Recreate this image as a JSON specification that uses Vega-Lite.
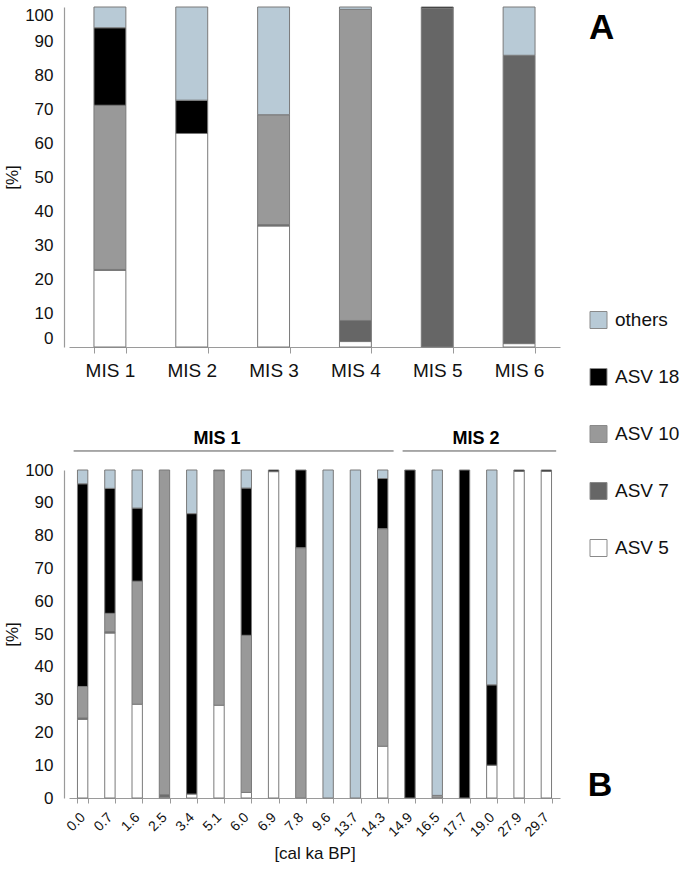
{
  "$schema": "https://vega.github.io/schema/vega-lite/v6.json",
  "padding": {"left": 3, "top": 6, "right": 0, "bottom": 0},
  "autosize": {"type": "pad"},
  "bounds": "flush",
  "spacing": 123,
  "config": {
    "font": "Liberation Sans",
    "view": {"stroke": null},
    "axis": {"domainColor": "#9a9a9a", "tickColor": "#9a9a9a", "labelColor": "#111111", "titleColor": "#111111", "grid": false, "titleFontWeight": "normal", "domainWidth": 1.2},
    "axisY": {"values": [0, 10, 20, 30, 40, 50, 60, 70, 80, 90, 100], "titleFontSize": 17, "titlePadding": 3, "labelFontSize": 17, "labelPadding": 11, "ticks": false, "tickSize": 0, "offset": 5},
    "bar": {"stroke": "#7a7a7a", "strokeWidth": 1}
  },
  "datasets": {
    "top": [
      {"g": "MIS 1", "asv": "ASV 5", "v": 22.5, "k": 1},
      {"g": "MIS 1", "asv": "ASV 7", "v": 0.3, "k": 2},
      {"g": "MIS 1", "asv": "ASV 10", "v": 48.3, "k": 3},
      {"g": "MIS 1", "asv": "ASV 18", "v": 22.8, "k": 4},
      {"g": "MIS 1", "asv": "others", "v": 6.1, "k": 5},
      {"g": "MIS 2", "asv": "ASV 5", "v": 62.8, "k": 1},
      {"g": "MIS 2", "asv": "ASV 18", "v": 9.8, "k": 4},
      {"g": "MIS 2", "asv": "others", "v": 27.4, "k": 5},
      {"g": "MIS 3", "asv": "ASV 5", "v": 35.6, "k": 1},
      {"g": "MIS 3", "asv": "ASV 7", "v": 0.4, "k": 2},
      {"g": "MIS 3", "asv": "ASV 10", "v": 32.3, "k": 3},
      {"g": "MIS 3", "asv": "others", "v": 31.7, "k": 5},
      {"g": "MIS 4", "asv": "ASV 5", "v": 1.6, "k": 1},
      {"g": "MIS 4", "asv": "ASV 7", "v": 6.2, "k": 2},
      {"g": "MIS 4", "asv": "ASV 10", "v": 91.5, "k": 3},
      {"g": "MIS 4", "asv": "others", "v": 0.7, "k": 5},
      {"g": "MIS 5", "asv": "ASV 7", "v": 99.6, "k": 2},
      {"g": "MIS 5", "asv": "ASV 18", "v": 0.4, "k": 4},
      {"g": "MIS 6", "asv": "ASV 5", "v": 1.0, "k": 1},
      {"g": "MIS 6", "asv": "ASV 7", "v": 84.8, "k": 2},
      {"g": "MIS 6", "asv": "others", "v": 14.2, "k": 5}
    ],
    "bottom": [
      {"g": "0.0", "asv": "ASV 5", "v": 24.0, "k": 1},
      {"g": "0.0", "asv": "ASV 7", "v": 0.4, "k": 2},
      {"g": "0.0", "asv": "ASV 10", "v": 9.6, "k": 3},
      {"g": "0.0", "asv": "ASV 18", "v": 61.8, "k": 4},
      {"g": "0.0", "asv": "others", "v": 4.2, "k": 5},
      {"g": "0.7", "asv": "ASV 5", "v": 50.3, "k": 1},
      {"g": "0.7", "asv": "ASV 7", "v": 0.4, "k": 2},
      {"g": "0.7", "asv": "ASV 10", "v": 5.6, "k": 3},
      {"g": "0.7", "asv": "ASV 18", "v": 38.1, "k": 4},
      {"g": "0.7", "asv": "others", "v": 5.6, "k": 5},
      {"g": "1.6", "asv": "ASV 5", "v": 28.6, "k": 1},
      {"g": "1.6", "asv": "ASV 10", "v": 37.5, "k": 3},
      {"g": "1.6", "asv": "ASV 18", "v": 22.3, "k": 4},
      {"g": "1.6", "asv": "others", "v": 11.6, "k": 5},
      {"g": "2.5", "asv": "ASV 5", "v": 0.3, "k": 1},
      {"g": "2.5", "asv": "ASV 7", "v": 0.7, "k": 2},
      {"g": "2.5", "asv": "ASV 10", "v": 99.0, "k": 3},
      {"g": "3.4", "asv": "ASV 5", "v": 1.2, "k": 1},
      {"g": "3.4", "asv": "ASV 18", "v": 85.5, "k": 4},
      {"g": "3.4", "asv": "others", "v": 13.3, "k": 5},
      {"g": "5.1", "asv": "ASV 5", "v": 28.3, "k": 1},
      {"g": "5.1", "asv": "ASV 10", "v": 71.5, "k": 3},
      {"g": "5.1", "asv": "ASV 18", "v": 0.2, "k": 4},
      {"g": "6.0", "asv": "ASV 5", "v": 1.7, "k": 1},
      {"g": "6.0", "asv": "ASV 10", "v": 47.9, "k": 3},
      {"g": "6.0", "asv": "ASV 18", "v": 44.9, "k": 4},
      {"g": "6.0", "asv": "others", "v": 5.5, "k": 5},
      {"g": "6.9", "asv": "ASV 5", "v": 99.5, "k": 1},
      {"g": "6.9", "asv": "ASV 18", "v": 0.5, "k": 4},
      {"g": "7.8", "asv": "ASV 10", "v": 76.3, "k": 3},
      {"g": "7.8", "asv": "ASV 18", "v": 23.7, "k": 4},
      {"g": "9.6", "asv": "others", "v": 100, "k": 5},
      {"g": "13.7", "asv": "others", "v": 100, "k": 5},
      {"g": "14.3", "asv": "ASV 5", "v": 15.8, "k": 1},
      {"g": "14.3", "asv": "ASV 10", "v": 66.3, "k": 3},
      {"g": "14.3", "asv": "ASV 18", "v": 15.3, "k": 4},
      {"g": "14.3", "asv": "others", "v": 2.6, "k": 5},
      {"g": "14.9", "asv": "ASV 18", "v": 100, "k": 4},
      {"g": "16.5", "asv": "ASV 10", "v": 0.8, "k": 3},
      {"g": "16.5", "asv": "others", "v": 99.2, "k": 5},
      {"g": "17.7", "asv": "ASV 18", "v": 100, "k": 4},
      {"g": "19.0", "asv": "ASV 5", "v": 10.0, "k": 1},
      {"g": "19.0", "asv": "ASV 18", "v": 24.5, "k": 4},
      {"g": "19.0", "asv": "others", "v": 65.5, "k": 5},
      {"g": "27.9", "asv": "ASV 5", "v": 99.6, "k": 1},
      {"g": "27.9", "asv": "ASV 18", "v": 0.4, "k": 4},
      {"g": "29.7", "asv": "ASV 5", "v": 99.6, "k": 1},
      {"g": "29.7", "asv": "ASV 18", "v": 0.4, "k": 4}
    ],
    "brackets": [
      {"label": "MIS 1", "start": 0.17, "end": 11.9, "mid": 5.43},
      {"label": "MIS 2", "start": 12.23, "end": 17.86, "mid": 14.92}
    ]
  },
  "resolve": {"scale": {"color": "independent"}, "legend": {"color": "independent"}},
  "vconcat": [
    {
      "width": 491,
      "height": 340,
      "layer": [
        {
          "data": {"name": "top"},
          "mark": {"type": "bar"},
          "encoding": {
            "x": {"field": "g", "type": "nominal", "sort": null,
                  "scale": {"paddingInner": 0.61, "paddingOuter": 0.305},
                  "axis": {"title": null, "labelAngle": 0, "labelFontSize": 19, "labelPadding": 8, "tickSize": 6, "tickBand": "extent"}},
            "y": {"field": "v", "type": "quantitative", "stack": "zero",
                  "scale": {"domain": [0, 100], "nice": false},
                  "axis": {"title": "[%]", "labelFlush": true}},
            "color": {"field": "asv", "type": "nominal",
                      "scale": {"domain": ["others", "ASV 18", "ASV 10", "ASV 7", "ASV 5"], "range": ["#b8cad6", "#000000", "#999999", "#666666", "#ffffff"]},
                      "legend": {"orient": "none", "legendX": 520, "legendY": 303.5, "title": null, "padding": 0, "labelFontSize": 19, "labelColor": "#111111", "labelOffset": 7, "rowPadding": 36, "symbolType": "square", "symbolSize": 289, "symbolStrokeColor": "#8a8a8a", "symbolStrokeWidth": 1, "symbolOpacity": 1}},
            "order": {"field": "k", "type": "quantitative"}
          }
        },
        {
          "data": {"values": [{"t": "A"}]},
          "mark": {"type": "text", "fontSize": 35, "fontWeight": "bold", "align": "center", "baseline": "middle", "color": "#000000"},
          "encoding": {
            "x": {"datum": 6.51, "type": "quantitative", "scale": {"domain": [0, 6], "nice": false, "zero": false}, "axis": null},
            "y": {"datum": 93.9, "type": "quantitative", "scale": {"domain": [0, 100], "nice": false}, "axis": {"title": "[%]", "labelFlush": true}},
            "text": {"field": "t"}
          }
        }
      ],
      "resolve": {"scale": {"x": "independent"}}
    },
    {
      "width": 491,
      "height": 328,
      "layer": [
        {
          "data": {"name": "bottom"},
          "mark": {"type": "bar"},
          "encoding": {
            "x": {"field": "g", "type": "nominal", "sort": null,
                  "scale": {"paddingInner": 0.62, "paddingOuter": 0.31},
                  "axis": {"title": "[cal ka BP]", "titleFontSize": 17, "titlePadding": 6, "labelAngle": -45, "labelAlign": "right", "labelBaseline": "middle", "labelFontSize": 14, "labelPadding": 12, "tickSize": 5, "tickBand": "extent"}},
            "y": {"field": "v", "type": "quantitative", "stack": "zero",
                  "scale": {"domain": [0, 100], "nice": false},
                  "axis": {"title": "[%]"}},
            "color": {"field": "asv", "type": "nominal",
                      "scale": {"domain": ["others", "ASV 18", "ASV 10", "ASV 7", "ASV 5"], "range": ["#b8cad6", "#000000", "#999999", "#666666", "#ffffff"]},
                      "legend": null},
            "order": {"field": "k", "type": "quantitative"}
          }
        },
        {
          "data": {"name": "brackets"},
          "mark": {"type": "rule", "color": "#555555", "strokeWidth": 1},
          "encoding": {
            "x": {"field": "start", "type": "quantitative", "scale": {"domain": [0, 18], "nice": false, "zero": false}, "axis": null},
            "x2": {"field": "end"},
            "y": {"datum": 105.8, "type": "quantitative", "scale": {"domain": [0, 100], "nice": false}, "axis": {"title": "[%]"}}
          }
        },
        {
          "data": {"name": "brackets"},
          "mark": {"type": "text", "fontSize": 18, "fontWeight": "bold", "align": "center", "baseline": "middle", "color": "#000000"},
          "encoding": {
            "x": {"field": "mid", "type": "quantitative", "scale": {"domain": [0, 18], "nice": false, "zero": false}, "axis": null},
            "y": {"datum": 109.5, "type": "quantitative", "scale": {"domain": [0, 100], "nice": false}, "axis": {"title": "[%]"}},
            "text": {"field": "label"}
          }
        },
        {
          "data": {"values": [{"t": "B"}]},
          "mark": {"type": "text", "fontSize": 34, "fontWeight": "bold", "align": "center", "baseline": "middle", "color": "#000000"},
          "encoding": {
            "x": {"datum": 19.47, "type": "quantitative", "scale": {"domain": [0, 18], "nice": false, "zero": false}, "axis": null},
            "y": {"datum": 3.65, "type": "quantitative", "scale": {"domain": [0, 100], "nice": false}, "axis": {"title": "[%]"}},
            "text": {"field": "t"}
          }
        }
      ],
      "resolve": {"scale": {"x": "independent"}}
    }
  ]
}
